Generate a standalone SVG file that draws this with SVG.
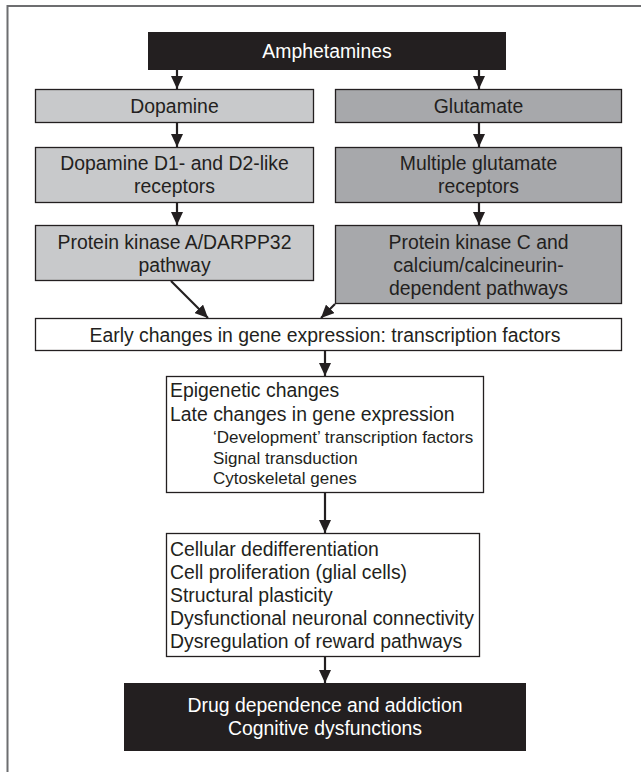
<svg xmlns="http://www.w3.org/2000/svg" width="641" height="772" viewBox="0 0 641 772">
<defs>
<marker id="ah" markerWidth="14" markerHeight="12" refX="13" refY="6" orient="auto" markerUnits="userSpaceOnUse">
<path d="M0,0 L13,6 L0,12 Z" fill="#231f20"/>
</marker>
<style>
text{font-family:"Liberation Sans",Arial,Helvetica,sans-serif;font-size:19.4px;fill:#231f20}
.c{text-anchor:middle}
.w{fill:#ffffff}
.s{font-size:17px}
.blk{fill:#231f20;stroke:none}
.lg{fill:#c8c9cb;stroke:#231f20;stroke-width:1.3}
.dg{fill:#a7a8ab;stroke:#231f20;stroke-width:1.3}
.wh{fill:#ffffff;stroke:#231f20;stroke-width:1.3}
.ar{stroke:#231f20;stroke-width:2.2;fill:none;marker-end:url(#ah)}
</style>
</defs>
<rect width="641" height="772" fill="#ffffff"/>
<path d="M7.5,772 V6 H641" fill="none" stroke="#6d6e70" stroke-width="2"/>
<g id="amphetamines">
<rect class="blk" x="148" y="32" width="358" height="38"/>
<text class="c w" x="327" y="58">Amphetamines</text>
</g>
<g id="dopamine">
<rect class="lg" x="35.5" y="89.5" width="278" height="33"/>
<text class="c" x="174.5" y="113">Dopamine</text>
</g>
<g id="glutamate">
<rect class="dg" x="335.5" y="89.5" width="286" height="33"/>
<text class="c" x="478.5" y="113">Glutamate</text>
</g>
<g id="d1d2">
<rect class="lg" x="35.5" y="147.5" width="278" height="55"/>
<text class="c" x="174.5" y="170">Dopamine D1- and D2-like</text>
<text class="c" x="174.5" y="193">receptors</text>
</g>
<g id="gluRec">
<rect class="dg" x="335.5" y="147.5" width="286" height="55"/>
<text class="c" x="478.5" y="170">Multiple glutamate</text>
<text class="c" x="478.5" y="193">receptors</text>
</g>
<g id="pka">
<rect class="lg" x="35.5" y="225.5" width="278" height="55"/>
<text class="c" x="174.5" y="249">Protein kinase A/DARPP32</text>
<text class="c" x="174.5" y="272">pathway</text>
</g>
<g id="pkc">
<rect class="dg" x="335.5" y="225.5" width="286" height="78"/>
<text class="c" x="478.5" y="249">Protein kinase C and</text>
<text class="c" x="478.5" y="272">calcium/calcineurin-</text>
<text class="c" x="478.5" y="295">dependent pathways</text>
</g>
<g id="early">
<rect class="wh" x="35.5" y="318.5" width="586" height="32"/>
<text class="c" x="325" y="342">Early changes in gene expression: transcription factors</text>
</g>
<g id="late">
<rect class="wh" x="166.5" y="376.5" width="317" height="116"/>
<text x="170" y="397">Epigenetic changes</text>
<text x="170" y="421">Late changes in gene expression</text>
<text class="s" x="213" y="443">‘Development’ transcription factors</text>
<text class="s" x="213" y="464">Signal transduction</text>
<text class="s" x="213" y="484">Cytoskeletal genes</text>
</g>
<g id="cellular">
<rect class="wh" x="166.5" y="533.5" width="313" height="123"/>
<text x="170" y="556">Cellular dedifferentiation</text>
<text x="170" y="579">Cell proliferation (glial cells)</text>
<text x="170" y="602">Structural plasticity</text>
<text x="170" y="625">Dysfunctional neuronal connectivity</text>
<text x="170" y="648">Dysregulation of reward pathways</text>
</g>
<g id="addiction">
<rect class="blk" x="124" y="683" width="402" height="68"/>
<text class="c w" x="325" y="712">Drug dependence and addiction</text>
<text class="c w" x="325" y="735">Cognitive dysfunctions</text>
</g>
<g id="connectors">
<line class="ar" x1="177" y1="70" x2="177" y2="89"/>
<line class="ar" x1="479" y1="70" x2="479" y2="89"/>
<line class="ar" x1="177" y1="123" x2="177" y2="147"/>
<line class="ar" x1="479" y1="123" x2="479" y2="147"/>
<line class="ar" x1="177" y1="203" x2="177" y2="225"/>
<line class="ar" x1="479" y1="203" x2="479" y2="225"/>
<line class="ar" x1="171" y1="281" x2="208" y2="318"/>
<line class="ar" x1="335" y1="304" x2="321" y2="318"/>
<line class="ar" x1="325" y1="351" x2="325" y2="376"/>
<line class="ar" x1="325" y1="493" x2="325" y2="533"/>
<line class="ar" x1="325" y1="657" x2="325" y2="683"/>
</g>
</svg>
